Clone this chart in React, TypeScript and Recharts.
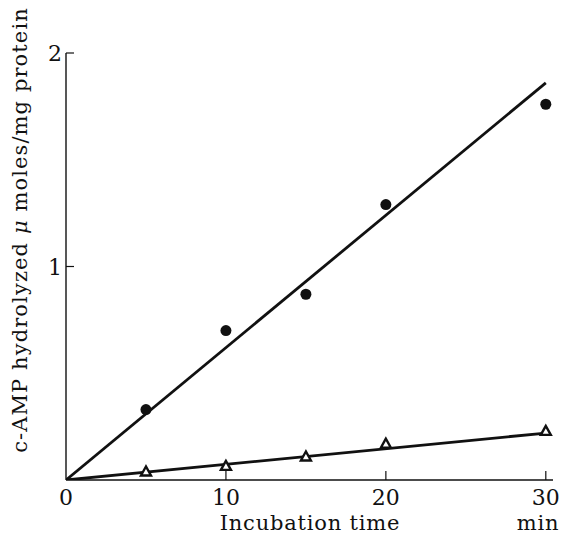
import React from "react";
import { ComposedChart, Line, Scatter, XAxis, YAxis } from "recharts";

const times = [5, 10, 15, 20, 30];
const circleValues = [0.33, 0.7, 0.87, 1.29, 1.76];
const triangleValues = [0.04, 0.066, 0.11, 0.17, 0.23];
const fitTimes = [0, 30];
const circleFit = [0, 1.86];
const triangleFit = [0, 0.22];
const xTicks = [0, 10, 20, 30];
const yTicks = [1, 2];

const circles = times.map((x, i) => ({ x, y: circleValues[i] }));
const triangles = times.map((x, i) => ({ x, y: triangleValues[i] }));
const circleLine = fitTimes.map((x, i) => ({ x, y: circleFit[i] }));
const triangleLine = fitTimes.map((x, i) => ({ x, y: triangleFit[i] }));

const FONT = "'DejaVu Serif', 'Liberation Serif', serif";
const INK = "#111";
const textStyle = { fontFamily: FONT, fill: INK };

function XTick({ x, y, payload }: any) {
  return (
    <g>
      {payload.value !== 0 && <line x1={x} y1={y} x2={x} y2={y - 9} stroke={INK} strokeWidth={1.2} />}
      <text x={x} y={y + 25} textAnchor="middle" style={{ ...textStyle, fontSize: 22 }}>
        {payload.value}
      </text>
    </g>
  );
}

function YTick({ x, y, payload }: any) {
  return (
    <g>
      <line x1={x} y1={y} x2={x + 8} y2={y} stroke={INK} strokeWidth={1.2} />
      <text x={x - 4} y={y + 8} textAnchor="end" style={{ ...textStyle, fontSize: 22 }}>
        {payload.value}
      </text>
    </g>
  );
}

function XLabel() {
  return (
    <g style={{ ...textStyle, fontSize: 21 }}>
      <text x={310} y={530} textAnchor="middle" style={{ letterSpacing: 0.8 }}>Incubation time</text>
      <text x={538} y={530} textAnchor="middle" style={{ letterSpacing: 0.8 }}>min</text>
    </g>
  );
}

function YLabel() {
  return (
    <text
      x={0}
      y={0}
      transform="translate(27 230) rotate(-90)"
      textAnchor="middle"
      style={{ ...textStyle, fontSize: 21, letterSpacing: 1.1 }}
    >
      c-AMP hydrolyzed <tspan fontStyle="italic">μ</tspan> moles/mg protein
    </text>
  );
}

function Dot({ cx, cy }: any) {
  return <circle cx={cx} cy={cy} r={5.5} fill={INK} />;
}

function Tri({ cx, cy }: any) {
  const s = 5;
  return (
    <polygon
      points={`${cx},${cy - s} ${cx - s},${cy + s * 0.8} ${cx + s},${cy + s * 0.8}`}
      fill="#fff"
      stroke={INK}
      strokeWidth={2.4}
    />
  );
}

export default function App() {
  return (
    <div style={{ width: 561, height: 534, background: "#fff" }}>
      <style>{"body{margin:0}"}</style>
      <ComposedChart width={561} height={534} margin={{ top: 53, right: 8, bottom: 53, left: 65 }}>
        <XAxis
          type="number"
          dataKey="x"
          domain={[0, 30.45]}
          ticks={xTicks}
          height={1}
          tickSize={0}
          tickMargin={0}
          tick={XTick}
          axisLine={{ stroke: INK, strokeWidth: 1.4 }}
          tickLine={false}
          allowDataOverflow
          label={XLabel}
        />
        <YAxis
          type="number"
          dataKey="y"
          domain={[0, 2]}
          ticks={yTicks}
          width={1}
          tickSize={0}
          tickMargin={0}
          tick={YTick}
          axisLine={{ stroke: INK, strokeWidth: 1.4 }}
          tickLine={false}
          allowDataOverflow
          label={YLabel}
        />
        <Line data={circleLine} dataKey="y" stroke={INK} strokeWidth={2.8} dot={false} isAnimationActive={false} />
        <Line data={triangleLine} dataKey="y" stroke={INK} strokeWidth={2.8} dot={false} isAnimationActive={false} />
        <Scatter data={circles} dataKey="y" shape={<Dot />} isAnimationActive={false} />
        <Scatter data={triangles} dataKey="y" shape={<Tri />} isAnimationActive={false} />
      </ComposedChart>
    </div>
  );
}
